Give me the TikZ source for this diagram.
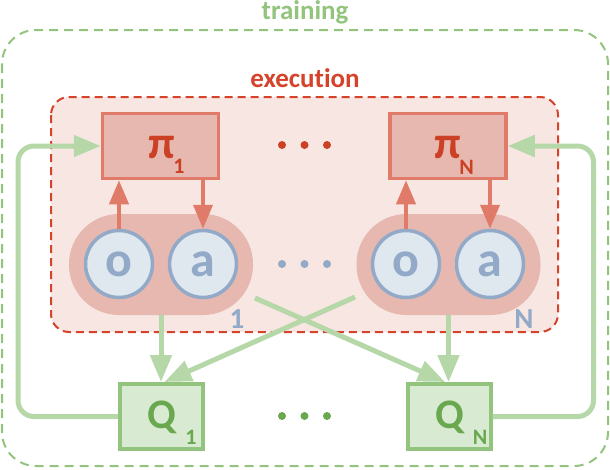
\documentclass[tikz,border=0pt]{standalone}
\usepackage{fontspec}
\setmainfont{Carlito}[Ligatures=NoCommon]
\usetikzlibrary{arrows.meta}
\definecolor{trainGreen}{HTML}{93C47D}
\definecolor{lineGreen}{HTML}{B6D7A8}
\definecolor{qFill}{HTML}{D9EAD3}
\definecolor{qText}{HTML}{6AA84F}
\definecolor{execRed}{HTML}{D5432A}
\definecolor{execFill}{HTML}{F7E6E2}
\definecolor{piFill}{HTML}{E6B8AF}
\definecolor{coral}{HTML}{E07B69}
\definecolor{piText}{HTML}{CC4125}
\definecolor{obsFill}{HTML}{DFE7EF}
\definecolor{obsBlue}{HTML}{92A9C7}
\tikzset{
  fs/.style={font=\bfseries\fontsize{#1}{#1}\selectfont},
  pibox/.style={draw=coral, fill=piFill, line width=3.5pt, minimum width=116pt, minimum height=65pt, inner sep=0pt},
  qbox/.style={draw=trainGreen, fill=qFill, line width=4pt, minimum width=83pt, minimum height=65pt, inner sep=0pt},
  pill/.style={fill=piFill, minimum width=184pt, minimum height=101pt, rounded corners=50pt, inner sep=0pt},
  agent/.style={circle, draw=obsBlue, fill=obsFill, line width=3.5pt, minimum size=67pt, inner sep=0pt, text=obsBlue, fs=50},
  coralarrow/.style={draw=coral, line width=4pt, -{Triangle[length=24pt,width=19pt]}},
  greenarrow/.style={draw=lineGreen, line width=5pt, -{Triangle[length=27pt,width=21pt]}},
  dotmark/.style={circle, inner sep=0pt, minimum size=8pt},
}
\begin{document}
\begin{tikzpicture}[x=1pt,y=-1pt]
\useasboundingbox (0,0) rectangle (610,469);
% training box
\draw[trainGreen, line width=2pt, dash pattern=on 9pt off 6pt, rounded corners=34pt] (2,30) rectangle (608,466);
\node[text=trainGreen, fs=27] (trainlbl) at (305,12) {training};
% execution box
\draw[execRed, fill=execFill, line width=2pt, dash pattern=on 8pt off 5pt, rounded corners=18pt] (51,97) rectangle (558,332);
\node[text=execRed, fs=27] (execlbl) at (305,78) {execution};
% pills
\node[pill] (pill1) at (161,264.5) {};
\node[pill] (pillN) at (448.5,264.5) {};
\node[agent] (o1) at (119,264) {o};
\node[agent] (a1) at (203,264) {a};
\node[agent] (oN) at (406,264) {o};
\node[agent] (aN) at (490,264) {a};
\node[text=obsBlue, fs=29] (lbl1) at (237,319) {1};
\node[text=obsBlue, fs=29] (lblN) at (524,319) {N};
% policy boxes
\node[pibox] (pi1) at (160.5,146) {};
\node[pibox] (piN) at (448,146) {};
\node[text=piText, fs=46] (pi1sym) at (161.5,147) {π};
\node[text=piText, fs=22] (pi1sub) at (179,166.5) {1};
\node[text=piText, fs=46] (piNsym) at (448,147) {π};
\node[text=piText, fs=22] (piNsub) at (466.5,167) {N};
% Q boxes
\node[qbox] (Q1) at (161.5,416.5) {};
\node[qbox] (QN) at (449,416.5) {};
\node[text=qText, fs=42] (Q1sym) at (161.5,417) {Q};
\node[text=qText, fs=22] (Q1sub) at (191,437) {1};
\node[text=qText, fs=42] (QNsym) at (449.5,417) {Q};
\node[text=qText, fs=22] (QNsub) at (480,437) {N};
% dots
\foreach \i/\x in {1/282,2/304.5,3/327} {
  \node[dotmark, fill=piText] (rd\i) at (\x,145) {};
  \node[dotmark, fill=obsBlue] (bd\i) at (\x,264) {};
  \node[dotmark, fill=qText] (gd\i) at (\x,416) {};
}
% coral arrows
\draw[coralarrow] (o1.north) -- (o1.north |- pi1.south);
\draw[coralarrow] (a1.north |- pi1.south) -- (a1.north);
\draw[coralarrow] (oN.north) -- (oN.north |- piN.south);
\draw[coralarrow] (aN.north |- piN.south) -- (aN.north);
% green arrows
\coordinate (x1) at (255,298);
\coordinate (xN) at (355,297);
\draw[greenarrow] (pill1.south) -- (pill1.south |- Q1.north);
\draw[greenarrow] (pillN.south) -- (pillN.south |- QN.north);
\draw[greenarrow] (x1) -- ([xshift=-4pt]QN.north);
\draw[greenarrow] (xN) -- ([xshift=3pt]Q1.north);
\draw[greenarrow, rounded corners=16pt] (Q1.west) -- ++(-100,0) |- (pi1.west);
\draw[greenarrow, rounded corners=16pt] (QN.east) -- ++(101,0) |- (piN.east);
\end{tikzpicture}
\end{document}
